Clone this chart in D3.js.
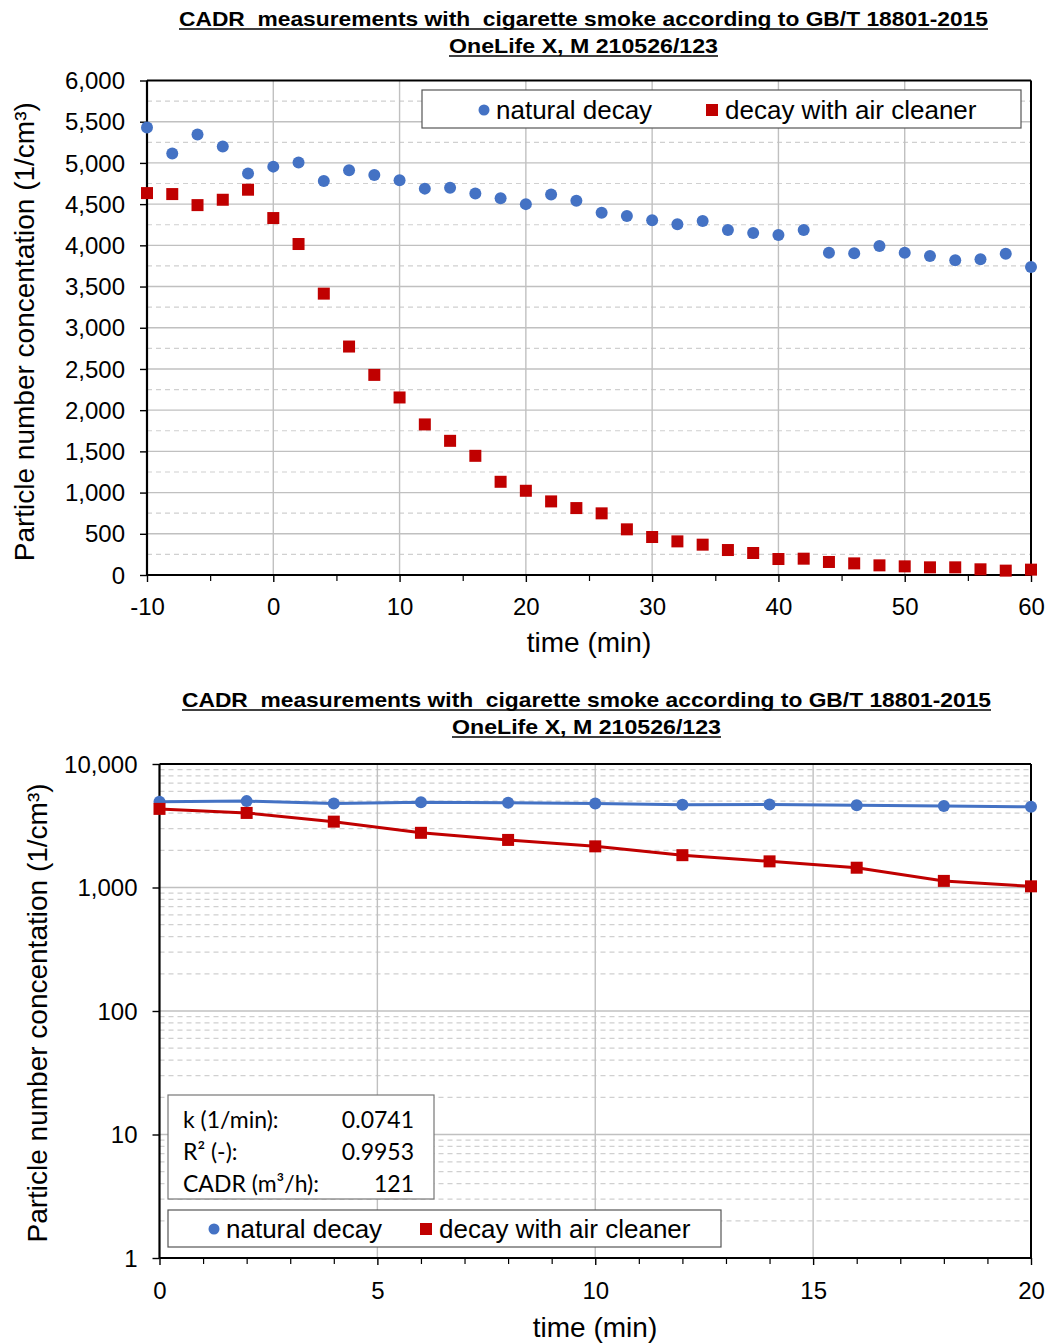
<!DOCTYPE html>
<html><head><meta charset="utf-8">
<script src="https://cdn.jsdelivr.net/npm/d3@7"></script>
<style>body{margin:0;background:#fff} svg{display:block} .ttl{white-space:pre}</style>
</head><body>
<svg id="c" width="1049" height="1344"></svg>
<script>
// ---------- data ----------
const times = [-10,-8,-6,-4,-2,0,2,4,6,8,10,12,14,16,18,20,22,24,26,28,30,32,34,36,38,40,42,44,46,48,50,52,54,56,58,60];
const naturalDecay = [5430,5115,5345,5200,4873,4955,5005,4780,4910,4852,4790,4688,4700,4630,4570,4500,4618,4542,4396,4355,4303,4255,4295,4186,4150,4125,4186,3911,3903,3992,3911,3871,3818,3830,3899,3737];
const withCleaner = [4634,4622,4488,4553,4675,4331,4016,3414,2772,2428,2154,1827,1628,1446,1131,1022,893,812,748,554,461,408,368,303,267,194,198,158,141,117,105,93,93,69,53,65];
const yTicksLinear = [0,500,1000,1500,2000,2500,3000,3500,4000,4500,5000,5500,6000];
const xTicksTop = [-10,0,10,20,30,40,50,60];
const yTicksLog = [1,10,100,1000,10000];
const xTicksBottom = [0,5,10,15,20];
const fitLabels = ["k (1/min):","R² (-):","CADR (m³/h):"];
const fitValues = ["0.0741","0.9953","121"];
const titleLines = ["CADR  measurements with  cigarette smoke according to GB/T 18801-2015","OneLife X, M 210526/123"];
const seriesNames = ["natural decay","decay with air cleaner"];
const yLabel = "Particle number concentation (1/cm³)";
const xLabel = "time (min)";

const BLUE = "#4472C4", RED = "#C00000";
const FONT = "'Liberation Sans', Arial, sans-serif";
const svg = d3.select("#c");

function title(cx, y1, y2, w1, w2) {
  [[titleLines[0], y1, w1], [titleLines[1], y2, w2]].forEach(([t, y, w]) => {
    svg.append("text").attr("class", "ttl").attr("x", cx).attr("y", y).attr("text-anchor", "middle")
      .attr("font-family", FONT).attr("font-weight", "bold").attr("font-size", 21)
      .attr("textLength", w).attr("lengthAdjust", "spacingAndGlyphs").attr("fill", "#000").text(t);
    svg.append("line").attr("x1", cx - w/2).attr("x2", cx + w/2).attr("y1", y + 3).attr("y2", y + 3)
      .attr("stroke", "#000").attr("stroke-width", 1.6);
  });
}

function legend(g, x0, y0, w, h, cx1, cx2, ty) {
  g.append("rect").attr("x", x0).attr("y", y0).attr("width", w).attr("height", h)
    .attr("fill", "#fff").attr("stroke", "#555").attr("stroke-width", 1.2);
  g.append("circle").attr("cx", cx1).attr("cy", ty - 9).attr("r", 5.5).attr("fill", BLUE);
  g.append("text").attr("x", cx1 + 12).attr("y", ty).attr("font-family", FONT).attr("font-size", 26).text(seriesNames[0]);
  g.append("rect").attr("x", cx2 - 6).attr("y", ty - 15).attr("width", 12).attr("height", 12).attr("fill", RED);
  g.append("text").attr("x", cx2 + 13).attr("y", ty).attr("font-family", FONT).attr("font-size", 26).text(seriesNames[1]);
}

// ---------- top chart (linear) ----------
{
  const L = 147, R = 1031, T = 80.5, B = 575;
  const x = d3.scaleLinear().domain([-10, 60]).range([L, R]);
  const y = d3.scaleLinear().domain([0, 6000]).range([B, T]);
  const g = svg.append("g");
  title(583.5, 26, 53, 809, 269);

  const minor = d3.range(250, 6000, 500);
  g.selectAll(".mn").data(minor).join("line").attr("x1", L).attr("x2", R)
    .attr("y1", d => y(d)).attr("y2", d => y(d))
    .attr("stroke", "#d0d0d0").attr("stroke-width", 1.2).attr("stroke-dasharray", "5,4");
  g.selectAll(".mj").data(yTicksLinear.filter(d => d > 0 && d < 6000)).join("line").attr("x1", L).attr("x2", R)
    .attr("y1", d => y(d)).attr("y2", d => y(d)).attr("stroke", "#c0c0c0").attr("stroke-width", 1.4);
  g.selectAll(".vg").data(xTicksTop.filter(d => d > -10 && d < 60)).join("line")
    .attr("x1", d => x(d)).attr("x2", d => x(d)).attr("y1", T).attr("y2", B)
    .attr("stroke", "#c0c0c0").attr("stroke-width", 1.4);

  const ya = d3.axisLeft(y).tickValues(yTicksLinear).tickSize(7).tickFormat(d3.format(","));
  const yg = g.append("g").attr("transform", `translate(${L},0)`).call(ya);
  yg.select(".domain").remove();
  yg.selectAll(".tick line").attr("stroke", "#000").attr("stroke-width", 1.4);
  yg.selectAll(".tick text").attr("font-family", FONT).attr("font-size", 24).attr("fill", "#000")
    .attr("x", -22).attr("dy", "0.34em");

  const xa = d3.axisBottom(x).tickValues(xTicksTop).tickSize(7).tickFormat(d3.format("d"));
  const xg = g.append("g").attr("transform", `translate(0,${B})`).call(xa);
  xg.select(".domain").remove();
  xg.selectAll(".tick line").attr("stroke", "#000").attr("stroke-width", 1.4);
  xg.selectAll(".tick text").attr("font-family", FONT).attr("font-size", 24).attr("fill", "#000").attr("y", 23)
    .text(d => d < 0 ? "-" + Math.abs(d) : d);
  const xm = d3.axisBottom(x).tickValues(d3.range(-5, 60, 10)).tickSize(6).tickFormat("");
  const xmg = g.append("g").attr("transform", `translate(0,${B})`).call(xm);
  xmg.select(".domain").remove();
  xmg.selectAll(".tick line").attr("stroke", "#000").attr("stroke-width", 1.2);

  g.append("line").attr("x1", L).attr("x2", L).attr("y1", T).attr("y2", B).attr("stroke", "#000").attr("stroke-width", 2.2);
  g.append("line").attr("x1", L).attr("x2", R).attr("y1", B).attr("y2", B).attr("stroke", "#000").attr("stroke-width", 2.2);
  g.append("line").attr("x1", R).attr("x2", R).attr("y1", T).attr("y2", B).attr("stroke", "#000").attr("stroke-width", 2);
  g.append("line").attr("x1", L).attr("x2", R).attr("y1", T).attr("y2", T).attr("stroke", "#000").attr("stroke-width", 2);

  legend(g, 422, 90, 599, 38, 484, 712, 119);

  g.selectAll(".nd").data(times).join("circle").attr("cx", d => x(d)).attr("cy", (d, i) => y(naturalDecay[i]))
    .attr("r", 6).attr("fill", BLUE);
  g.selectAll(".wc").data(times).join("rect").attr("x", d => x(d) - 6).attr("y", (d, i) => y(withCleaner[i]) - 6)
    .attr("width", 12).attr("height", 12).attr("fill", RED);

  g.append("text").attr("transform", `translate(34,${(T + B) / 2 + 4}) rotate(-90)`).attr("text-anchor", "middle")
    .attr("font-family", FONT).attr("font-size", 28).text(yLabel);
  g.append("text").attr("x", 589).attr("y", 652).attr("text-anchor", "middle")
    .attr("font-family", FONT).attr("font-size", 28).text(xLabel);
}

// ---------- bottom chart (log) ----------
{
  const L = 159.5, R = 1031, T = 764, B = 1258;
  const x = d3.scaleLinear().domain([0, 20]).range([L, R]);
  const y = d3.scaleLog().domain([1, 10000]).range([B, T]);
  const g = svg.append("g");
  title(586.5, 707, 734, 809, 269);

  const minor = [];
  [1, 10, 100, 1000].forEach(dec => { for (let m = 2; m <= 9; m++) minor.push(dec * m); });
  g.selectAll(".mn").data(minor).join("line").attr("x1", L).attr("x2", R)
    .attr("y1", d => y(d)).attr("y2", d => y(d))
    .attr("stroke", "#d0d0d0").attr("stroke-width", 1.2).attr("stroke-dasharray", "5,4");
  g.selectAll(".mj").data(yTicksLog.filter(d => d > 1 && d < 10000)).join("line").attr("x1", L).attr("x2", R)
    .attr("y1", d => y(d)).attr("y2", d => y(d)).attr("stroke", "#c0c0c0").attr("stroke-width", 1.4);
  g.selectAll(".vg").data(xTicksBottom.filter(d => d > 0 && d < 20)).join("line")
    .attr("x1", d => x(d)).attr("x2", d => x(d)).attr("y1", T).attr("y2", B)
    .attr("stroke", "#c0c0c0").attr("stroke-width", 1.4);

  const ya = d3.axisLeft(y).tickValues(yTicksLog).tickSize(7).tickFormat(d3.format(","));
  const yg = g.append("g").attr("transform", `translate(${L},0)`).call(ya);
  yg.select(".domain").remove();
  yg.selectAll(".tick line").attr("stroke", "#000").attr("stroke-width", 1.4);
  yg.selectAll(".tick text").attr("font-family", FONT).attr("font-size", 24).attr("fill", "#000")
    .attr("x", -22).attr("dy", "0.34em");

  const xa = d3.axisBottom(x).tickValues(xTicksBottom).tickSize(7).tickFormat(d3.format("d"));
  const xg = g.append("g").attr("transform", `translate(0,${B})`).call(xa);
  xg.select(".domain").remove();
  xg.selectAll(".tick line").attr("stroke", "#000").attr("stroke-width", 1.4);
  xg.selectAll(".tick text").attr("font-family", FONT).attr("font-size", 24).attr("fill", "#000").attr("y", 24);
  const xm = d3.axisBottom(x).tickValues(d3.range(1, 20).filter(d => d % 5 !== 0)).tickSize(6).tickFormat("");
  const xmg = g.append("g").attr("transform", `translate(0,${B})`).call(xm);
  xmg.select(".domain").remove();
  xmg.selectAll(".tick line").attr("stroke", "#000").attr("stroke-width", 1.2);

  g.append("line").attr("x1", L).attr("x2", L).attr("y1", T).attr("y2", B).attr("stroke", "#000").attr("stroke-width", 2.2);
  g.append("line").attr("x1", L).attr("x2", R).attr("y1", B).attr("y2", B).attr("stroke", "#000").attr("stroke-width", 2.2);
  g.append("line").attr("x1", R).attr("x2", R).attr("y1", T).attr("y2", B).attr("stroke", "#000").attr("stroke-width", 2);
  g.append("line").attr("x1", L).attr("x2", R).attr("y1", T).attr("y2", T).attr("stroke", "#000").attr("stroke-width", 2);

  g.append("rect").attr("x", 168).attr("y", 1095).attr("width", 266).attr("height", 104)
    .attr("fill", "#fff").attr("stroke", "#777").attr("stroke-width", 1.2);
  fitLabels.forEach((t, i) => {
    g.append("text").attr("x", 183).attr("y", 1128 + i * 32).attr("font-family", "Lato, 'Open Sans', sans-serif")
      .attr("font-size", 23).text(t);
    g.append("text").attr("x", 414).attr("y", 1128 + i * 32).attr("text-anchor", "end")
      .attr("font-family", "Lato, 'Open Sans', sans-serif").attr("font-size", 23).text(fitValues[i]);
  });

  legend(g, 168, 1210, 553, 37, 214, 426, 1238);

  const sub = times.map((t, i) => i).filter(i => times[i] >= 0 && times[i] <= 20);
  const line = d3.line().x(i => x(times[i]));
  g.append("path").datum(sub).attr("d", line.y(i => y(naturalDecay[i])))
    .attr("fill", "none").attr("stroke", BLUE).attr("stroke-width", 3);
  g.append("path").datum(sub).attr("d", line.y(i => y(withCleaner[i])))
    .attr("fill", "none").attr("stroke", RED).attr("stroke-width", 3);
  g.selectAll(".nd").data(sub).join("circle").attr("cx", i => x(times[i])).attr("cy", i => y(naturalDecay[i]))
    .attr("r", 6).attr("fill", BLUE);
  g.selectAll(".wc").data(sub).join("rect").attr("x", i => x(times[i]) - 6).attr("y", i => y(withCleaner[i]) - 6)
    .attr("width", 12).attr("height", 12).attr("fill", RED);

  g.append("text").attr("transform", `translate(47,${(T + B) / 2 + 2}) rotate(-90)`).attr("text-anchor", "middle")
    .attr("font-family", FONT).attr("font-size", 28).text(yLabel);
  g.append("text").attr("x", 595).attr("y", 1337).attr("text-anchor", "middle")
    .attr("font-family", FONT).attr("font-size", 28).text(xLabel);
}
</script>
</body></html>
